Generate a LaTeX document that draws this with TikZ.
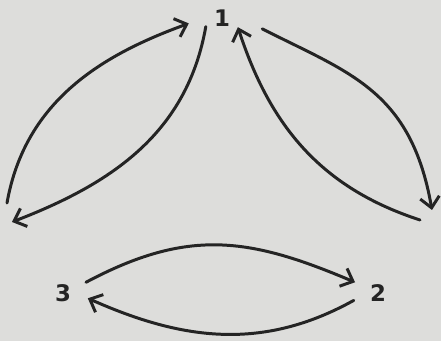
\documentclass[tikz,border=0pt]{standalone}
\usepackage{fontspec}
\newfontfamily\digitfont{DejaVu Sans}
\usepackage{tikz}
\usetikzlibrary{arrows.meta}
\definecolor{paper}{RGB}{221,221,219}
\definecolor{ink}{RGB}{36,36,36}
\begin{document}
\begin{tikzpicture}[x=0.02cm,y=0.02cm,
          state/.style={circle,inner sep=0pt,minimum size=1cm,
                        font=\fontsize{13}{13}\selectfont\digitfont\bfseries,text=ink},
          flow/.style={draw=ink,line width=1.7pt,line cap=round,
                       -{Straight Barb[length=6pt,width=11pt]}}]
        % paper
        \fill[paper] (0,0) rectangle (441,341);
        \useasboundingbox (0,0) rectangle (441,341);
        % states
        \node[state,minimum size=0.72cm] (s1) at (222,323) {1};
        \node[state] (s2) at (378,48) {2};
        \node[state] (s3) at (63,48) {3};
        % free ends
        \coordinate (lo) at (7,138);
        \coordinate (li) at (12,119);
        \coordinate (ro) at (432,131);
        \coordinate (ri) at (420,121);
        % left pair
        \draw[flow,shorten >=9pt] (lo) to[out=80,in=200] (s1.180);
        \draw[flow] (s1.208) to[out=260,in=21] (li);
        % right pair
        \draw[flow,shorten <=14pt] (s1.1) to[out=-27,in=100,looseness=1.15] (ro);
        \draw[flow] (ri) to[out=162,in=288] (s1.-30);
        % bottom pair
        \draw[flow] (s3.25) to[out=28,in=157,looseness=1.1] (s2.155);
        \draw[flow] (s2.197) to[out=209,in=336] (s3.-12);
      \end{tikzpicture}
\end{document}
